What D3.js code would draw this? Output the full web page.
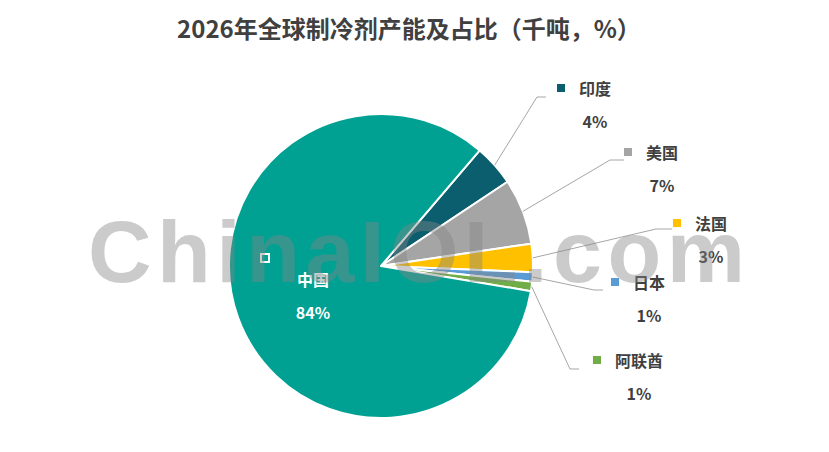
<!DOCTYPE html>
<html>
<head>
<meta charset="utf-8">
<script src="https://cdn.jsdelivr.net/npm/d3@7"></script>
<style>
  body { margin: 0; background: #fff; }
  svg { display: block; font-family: "Noto Sans CJK SC", "Noto Sans", sans-serif; }
</style>
</head>
<body>
<div id="chart"></div>
<script>
// 数据
const countries = ["印度", "美国", "法国", "日本", "阿联酋", "中国"];
const shares = [4.4, 7.0, 3.0, 1.0, 1.0, 83.6];
const sliceColors = ["#0b5e6e", "#a5a5a5", "#ffc000", "#5b9bd5", "#70ad47", "#00a193"];

const width = 829, height = 452;
const cx = 381, cy = 266, radius = 152;

// 标签位置 (名称中心)
const labelLayout = [
  { x: 595, y: 89,  elbow: [[537, 97], [546, 97]] },
  { x: 662, y: 153, elbow: [[610, 160], [624, 160]] },
  { x: 711, y: 224, elbow: [[656, 229], [672, 229]] },
  { x: 649, y: 283, elbow: [[594, 290], [603, 290]] },
  { x: 639, y: 361, elbow: [[570, 369], [579, 369]] },
  { x: 313, y: 280, inside: true }
];

const svg = d3.select("#chart").append("svg")
  .attr("width", width)
  .attr("height", height);

// 标题
svg.append("text")
  .attr("x", 409)
  .attr("y", 38)
  .attr("text-anchor", "middle")
  .attr("font-size", "24px")
  .attr("font-weight", "bold")
  .attr("fill", "#404040")
  .text("2026年全球制冷剂产能及占比（千吨，%）");

const startAngle = 40.5 * Math.PI / 180;
const pie = d3.pie()
  .sort(null)
  .value(d => d)
  .startAngle(startAngle)
  .endAngle(startAngle + 2 * Math.PI);

const arcs = pie(shares);
const arc = d3.arc().innerRadius(0).outerRadius(radius);
const total = d3.sum(shares);

const g = svg.append("g").attr("transform", `translate(${cx},${cy})`);

g.selectAll("path.slice")
  .data(arcs)
  .enter()
  .append("path")
  .attr("class", "slice")
  .attr("d", arc)
  .attr("fill", (d, i) => sliceColors[i])
  .attr("stroke", "#fff")
  .attr("stroke-width", 2)
  .attr("stroke-linejoin", "round");

// 引导线
const line = d3.line();
arcs.forEach((d, i) => {
  const lay = labelLayout[i];
  if (lay.inside) return;
  const mid = (d.startAngle + d.endAngle) / 2;
  const p0 = [cx + radius * Math.sin(mid), cy - radius * Math.cos(mid)];
  svg.append("path")
    .attr("d", line([p0, ...lay.elbow]))
    .attr("fill", "none")
    .attr("stroke", "#a6a6a6")
    .attr("stroke-width", 1);
});

// 标签
arcs.forEach((d, i) => {
  const lay = labelLayout[i];
  const color = lay.inside ? "#fff" : "#404040";
  const name = countries[i];
  const nameW = name.length * 16;
  const lg = svg.append("g");

  if (lay.inside) {
    lg.append("rect")
      .attr("x", 261).attr("y", 254)
      .attr("width", 8).attr("height", 8)
      .attr("fill", "none")
      .attr("stroke", "#fff")
      .attr("stroke-width", 2);
  } else {
    lg.append("rect")
      .attr("x", lay.x - nameW / 2 - 22)
      .attr("y", lay.y - 5)
      .attr("width", 8).attr("height", 8)
      .attr("fill", sliceColors[i]);
  }

  lg.append("text")
    .attr("x", lay.x)
    .attr("y", lay.y + 6)
    .attr("text-anchor", "middle")
    .attr("font-size", "16px")
    .attr("font-weight", "bold")
    .attr("fill", color)
    .text(name);

  lg.append("text")
    .attr("x", lay.x)
    .attr("y", lay.y + 39)
    .attr("text-anchor", "middle")
    .attr("font-size", "16px")
    .attr("font-weight", "bold")
    .attr("fill", color)
    .text(Math.round(d.value / total * 100) + "%");
});

// 水印
svg.append("text")
  .attr("x", 88)
  .attr("y", 282)
  .attr("font-family", "'Liberation Sans', Arial, sans-serif")
  .attr("font-size", "88px")
  .attr("font-weight", "bold")
  .attr("textLength", 657)
  .attr("lengthAdjust", "spacing")
  .attr("fill", "#858585")
  .attr("opacity", 0.42)
  .text("ChinaIOL.com");
</script>
</body>
</html>
